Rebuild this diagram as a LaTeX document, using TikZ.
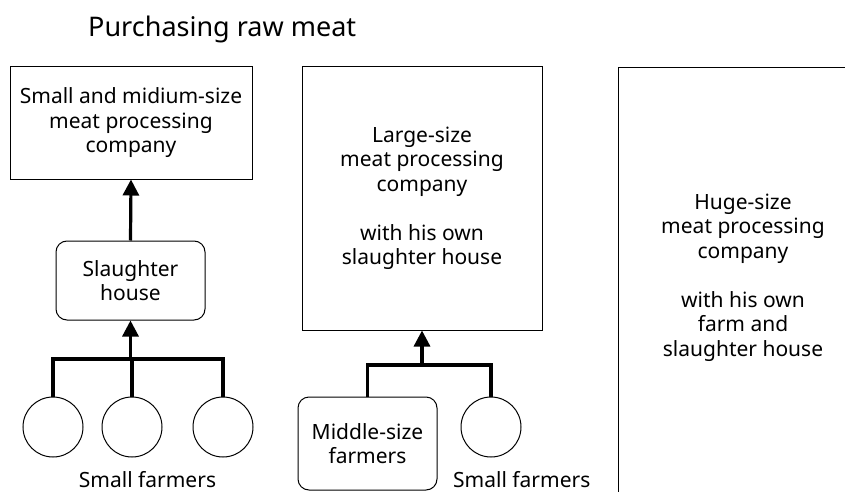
\documentclass[tikz,border=0pt]{standalone}
\usepackage{fontspec}
\setmainfont{Noto Sans}
\usetikzlibrary{arrows.meta}
\begin{document}
\begin{tikzpicture}[x=1pt,y=-1pt,
  txt/.style={align=center,font=\fontsize{21}{24.5}\selectfont},
  plainbox/.style={draw,line width=1pt,inner sep=0pt,txt},
  roundbox/.style={plainbox,rounded corners=11pt},
  farmer/.style={draw,line width=1pt,circle,minimum size=60pt,inner sep=0pt},
  bus/.style={line width=3.2pt},
  flow/.style={line width=3.2pt,-{Triangle[length=16pt,width=16pt]}}]
\useasboundingbox (0,0) rectangle (845,492);
\clip (0,0) rectangle (845,492);

% title
\node[anchor=base west,font=\fontsize{27}{32}\selectfont,inner sep=0pt] (title) at (88,37) {Purchasing raw meat};

% small and medium-size company
\node[plainbox,minimum width=242pt,minimum height=112pt] (smc) at (131,123)
  {Small and midium-size\\meat processing\\company};
\node[roundbox,minimum width=149pt,minimum height=79pt] (sh) at (130.5,280.5)
  {Slaughter\\house};
\node[farmer] (f1) at (53,427) {};
\node[farmer] (f2) at (132,427) {};
\node[farmer] (f3) at (223,427) {};
\node[txt,anchor=base,inner sep=0pt] (sf1) at (147.5,487) {Small farmers};

\coordinate (j1) at (sh.south |- 0,359);
\draw[bus] (f1.north) |- (j1) -| (f3.north);
\draw[bus] (f2.north) -- (f2.north |- j1);
\draw[flow] (j1) -- (sh.south);
\draw[flow] (sh.north) -- (smc.south);

% large-size company
\node[plainbox,minimum width=240pt,minimum height=263pt] (lc) at (422,198.5)
  {Large-size\\meat processing\\company\\[24.5pt]with his own\\slaughter house};
\node[roundbox,minimum width=139pt,minimum height=93pt] (mf) at (367.5,443.5)
  {Middle-size\\farmers};
\node[farmer] (f4) at (491,427) {};
\node[txt,anchor=base west,inner sep=0pt] (sf2) at (453,487) {Small farmers};

\coordinate (j2) at (lc.south |- 0,365);
\draw[bus] (mf.north) |- (j2) -| (f4.north);
\draw[flow] (j2) -- (lc.south);

% huge-size company
\node[draw,line width=1pt,minimum width=262pt,minimum height=460pt,inner sep=0pt,anchor=north west] (hc) at (618,67) {};
\node[txt,inner sep=0pt] (hct) at (743,277.5)
  {Huge-size\\meat processing\\company\\[24.5pt]with his own\\farm and\\slaughter house};
\end{tikzpicture}
\end{document}
